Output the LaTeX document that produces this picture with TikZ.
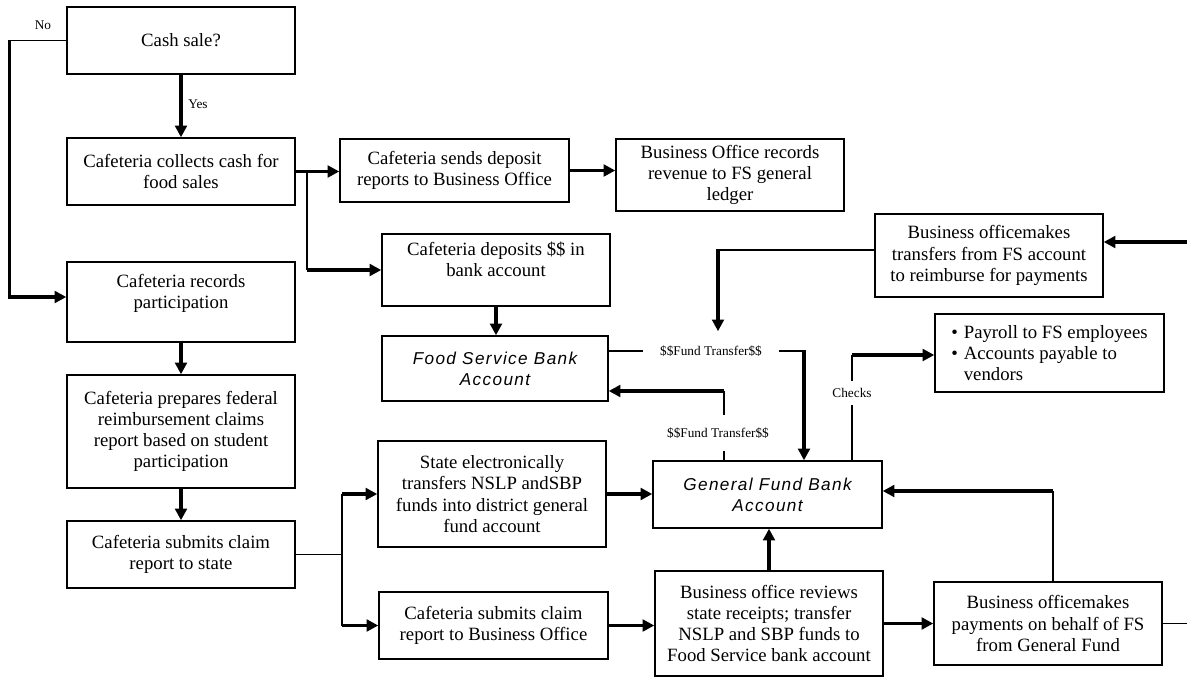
\documentclass[tikz,border=0pt]{standalone}
\usepackage{fontspec}
\setmainfont{Liberation Serif}
\newfontfamily\gfsans[LetterSpace=8]{Liberation Sans}
\usetikzlibrary{arrows.meta,calc}
\begin{document}
\begin{tikzpicture}[x=0.64pt,y=-0.64pt,
  box/.style={draw, line width=0.9pt, inner sep=0pt, align=center, font=\fontsize{12}{13.6}\selectfont},
  ibox/.style={box, font=\gfsans\itshape\fontsize{11}{13.6}\selectfont},
  wh/.style 2 args={minimum width=#1*0.64pt, minimum height=#2*0.64pt},
  thk/.style={line width=2pt},
  thn/.style={line width=1pt},
  arr/.style={thk, -{Triangle[length=7.5pt,width=7.5pt]}},
  lbl/.style={font=\fontsize{8.5}{10}\selectfont, inner sep=1pt},
]
\useasboundingbox (0,0) rectangle (1187,677);

% left column
\node[box, wh={228}{67}] (cash) at (181,40.5) {Cash sale?};
\node[box, wh={228}{67}] (collect) at (181,171.5) {Cafeteria collects cash for\\food sales};
\node[box, wh={228}{80}] (records) at (181,302) {Cafeteria records\\participation\\\mbox{}};
\node[box, wh={228}{113}] (prepares) at (181,431.5) {Cafeteria prepares federal\\reimbursement claims\\report based on student\\participation};
\node[box, wh={228}{67}] (submitstate) at (181,554.5) {Cafeteria submits claim\\report to state};

% middle
\node[box, wh={229}{63}] (sends) at (454.5,170.5) {Cafeteria sends deposit\\reports to Business Office};
\node[box, wh={228}{72}] (bizrec) at (730,175) {Business Office records\\revenue to FS general\\ledger};
\node[box, wh={228}{72}] (deposits) at (496,270) {Cafeteria deposits \$\$ in\\bank account\\\mbox{}};
\node[ibox, wh={226}{65}] (fsbank) at (495,368.5) {Food Service Bank\\Account};
\node[box, wh={228}{106}] (state) at (492,494) {State electronically\\transfers NSLP andSBP\\funds into district general\\fund account};
\node[box, wh={229}{67}] (claimbo) at (493.5,625.5) {Cafeteria submits claim\\report to Business Office};

% right
\node[box, wh={228}{83}] (botrans) at (989,255.5) {Business officemakes\\transfers from FS account\\to reimburse for payments};
\node[box, align=left, wh={229}{78}] (payroll) at (1049.5,353) {\makebox[8pt][l]{\textbullet}Payroll to FS employees\\\makebox[8pt][l]{\textbullet}Accounts payable to\\\hspace*{8pt}vendors};
\node[ibox, wh={229}{67}] (gf) at (767.5,494.5) {General Fund Bank\\Account};
\node[box, wh={228}{105}] (boreview) at (769,623.5) {Business office reviews\\state receipts; transfer\\NSLP and SBP funds to\\Food Service bank account};
\node[box, wh={228}{83}] (bopay) at (1048,623.5) {Business officemakes\\payments on behalf of FS\\from General Fund};

% coordinates
\coordinate (br1) at (307,171.5);
\coordinate (bt1) at (718,250);
\coordinate (rin) at (1187,242);
\coordinate (c804) at (804,351);
\coordinate (c724) at (724,391);
\coordinate (c852) at (852,355);
\coordinate (jn) at (342,554.5);
\coordinate (c1053) at (1053,491);
\coordinate (rout) at (1187,622);

% No / Yes
\draw[thn] (cash.west) -- ++(-57,0) coordinate (nocorner);
\draw[arr] ([yshift=0.5pt]nocorner) |- ([yshift=3.2pt]records.west);
\draw[arr] (cash.south) -- (collect.north);

% left column flow
\draw[arr] (records.south) -- (prepares.north);
\draw[arr] (prepares.south) -- (submitstate.north);

% cash branch
\draw[arr] (collect.east) -- (collect.east -| sends.west);
\draw[thn] (br1) -- (br1 |- deposits.west);
\draw[arr] (br1 |- deposits.west) -- (deposits.west);
\draw[arr] (sends.east) -- (sends.east -| bizrec.west);
\draw[arr] (deposits.south) -- (deposits.south |- fsbank.north);

% transfers from FS
\draw[thn] (botrans.west |- bt1) -- (bt1);
\draw[arr] ([yshift=0.5pt]bt1) -- ++(0,82);
\draw[arr] (rin) -- (rin -| botrans.east);

% FS bank -> GF
\draw[thn] (fsbank.east |- c804) -- (c804);
\draw[arr] ([yshift=0.5pt]c804) -- (c804 |- gf.north);

% GF -> FS bank
\draw[thn] (gf.north -| c724) -- (c724);
\draw[arr] (c724) -- (c724 -| fsbank.east);

% checks
\draw[thn] (gf.north -| c852) -- (c852);
\draw[arr] (c852) -- (c852 -| payroll.west);

% claim split
\draw[thn] (submitstate.east) -- (jn);
\draw[thn] (jn |- state.west) -- (jn |- claimbo.west);
\draw[arr] (jn |- state.west) -- (state.west);
\draw[arr] (jn |- claimbo.west) -- (claimbo.west);

\draw[arr] (state.east) -- (state.east -| gf.west);
\draw[arr] (claimbo.east) -- (claimbo.east -| boreview.west);
\draw[arr] (boreview.north) -- (boreview.north |- gf.south);
\draw[arr] (boreview.east) -- (boreview.east -| bopay.west);

% payments -> GF
\draw[thn] (bopay.north -| c1053) -- (c1053);
\draw[arr] (c1053) -- (c1053 -| gf.east);
\draw[thn] (bopay.east) -- (bopay.east -| rout);

% labels
\node[lbl] (nolbl) at (43,25) {No};
\node[lbl] (yeslbl) at (198,104) {Yes};
\node[lbl, fill=white, inner xsep=11pt] (ft1) at (711,351) {\$\$Fund Transfer\$\$};
\node[lbl, fill=white, inner ysep=8pt] (ft2) at (718,433) {\$\$Fund Transfer\$\$};
\node[lbl, fill=white, inner ysep=5pt] (checks) at (852,393) {Checks};
\end{tikzpicture}
\end{document}
